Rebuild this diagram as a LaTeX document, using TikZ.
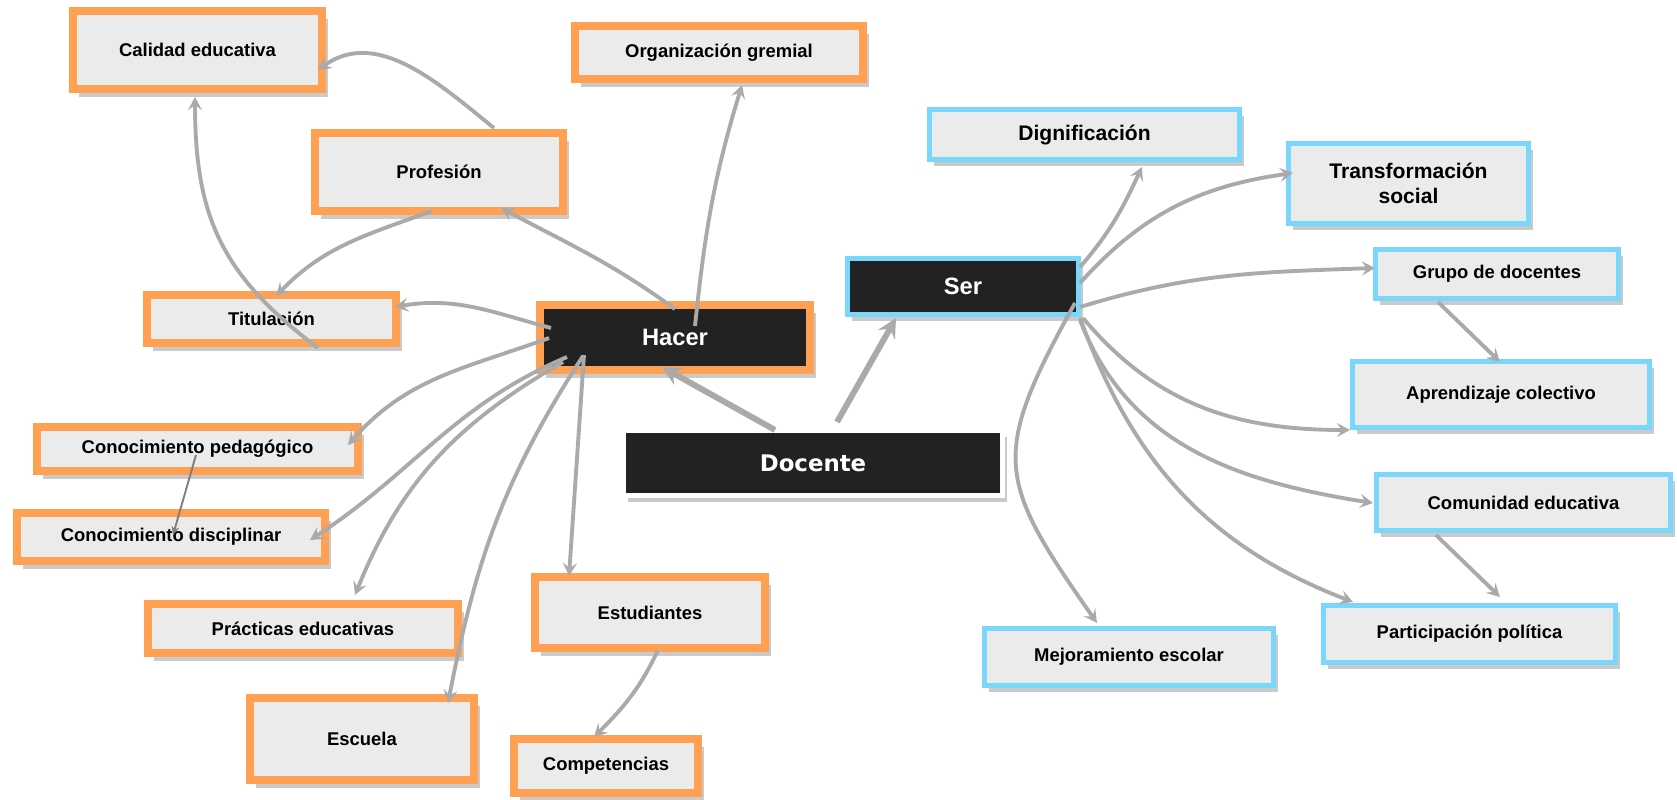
\documentclass[tikz,border=0pt]{standalone}
\usepackage{fontspec}
\setmainfont{Liberation Sans}
\newfontfamily\heavyfont{DejaVu Sans}
\usetikzlibrary{arrows.meta, calc, shadows}

\definecolor{orangeline}{RGB}{255,160,82}
\definecolor{blueline}{RGB}{122,215,252}
\definecolor{boxfill}{RGB}{235,235,235}
\definecolor{darkfill}{RGB}{34,34,34}
\definecolor{linkgray}{RGB}{170,170,170}

\tikzset{
    dim/.style 2 args={minimum width=#1*0.02cm, minimum height=#2*0.02cm},
    concept/.style={rectangle, fill=boxfill, inner sep=0pt, align=center,
        font=\bfseries\fontsize{10.5}{12.6}\selectfont},
    orangebox/.style={concept, draw=orangeline, line width=4.5pt,
        drop shadow={shadow xshift=3.4pt, shadow yshift=-4.5pt, opacity=0.42}},
    bluebox/.style={concept, draw=blueline, line width=3.1pt,
        drop shadow={shadow xshift=2.6pt, shadow yshift=-3.7pt, opacity=0.42}},
    core/.style={fill=darkfill, text=white, font=\bfseries\fontsize{13.5}{16}\selectfont},
    bigtext/.style={font=\bfseries\fontsize{12}{14.2}\selectfont},
    link/.style={draw=linkgray, line width=2.2pt, -{Stealth[length=7.5pt, width=8pt, inset=3pt]}},
    thicklink/.style={line width=3.4pt, -{Stealth[length=11pt, width=11pt, inset=4pt]}},
    thinlink/.style={draw=gray, line width=1.1pt, -{Stealth[length=5pt, width=4.5pt, inset=1.8pt]}}
}

\begin{document}
\begin{tikzpicture}[x=0.02cm, y=-0.02cm]
    \useasboundingbox (0,0) rectangle (1677,799);

    \node[orangebox, dim={249}{78}] (calidad) at (197.5,50) {Calidad educativa};
    \node[orangebox, dim={288}{53}] (organiz) at (719,52.5) {Organización gremial};
    \node[orangebox, dim={248}{78}] (profesion) at (439,172) {Profesión};
    \node[orangebox, dim={249}{48}] (titulacion) at (271.5,319) {Titulación};
    \node[orangebox, core, dim={270}{65}] (hacer) at (675,337.5) {Hacer};
    \node[orangebox, dim={321}{44}] (conped) at (197.5,449) {Conocimiento pedagógico};
    \node[orangebox, dim={308}{48}] (condis) at (171,537) {Conocimiento disciplinar};
    \node[orangebox, dim={310}{49}] (practicas) at (303,628.5) {Prácticas educativas};
    \node[orangebox, dim={224}{82}] (escuela) at (362,739) {Escuela};
    \node[orangebox, dim={230}{71}] (estudiantes) at (650,612.5) {Estudiantes};
    \node[orangebox, dim={184}{54}] (competencias) at (606,766) {Competencias};

    \node[concept, draw=white, line width=2.8pt, fill=darkfill, text=white,
        font=\heavyfont\bfseries\fontsize{13}{15.6}\selectfont,
        drop shadow={shadow xshift=2.4pt, shadow yshift=-3.5pt, opacity=0.42},
        dim={379}{65}] (docente) at (813,463) {Docente};

    \node[bluebox, core, dim={230.5}{55.5}] (ser) at (963,286.5) {Ser};
    \node[bluebox, bigtext, dim={309.5}{49.5}] (dign) at (1084.5,134.5) {Dignificación};
    \node[bluebox, bigtext, dim={239.5}{79.5}] (transf) at (1408.5,183.5) {Transformación\\social};
    \node[bluebox, dim={242.5}{48.5}] (grupo) at (1497,274) {Grupo de docentes};
    \node[bluebox, dim={296.5}{65.5}] (aprend) at (1501,394.5) {Aprendizaje colectivo};
    \node[bluebox, dim={293.5}{55.5}] (comun) at (1523.5,502.5) {Comunidad educativa};
    \node[bluebox, dim={291.5}{56.5}] (partic) at (1469.5,634) {Participación política};
    \node[bluebox, dim={288.5}{56.5}] (mejor) at (1129,657) {Mejoramiento escolar};

    \path[every edge/.style=link]
    ($(profesion)+(55,-44)$) edge [out=141, in=36] ($(calidad)+(120.5,20)$)
    ($(profesion)+(-7,39)$) edge [out=200, in=46] ($(titulacion)+(4.5,-23)$)
    ($(titulacion)+(46.5,29)$) edge [out=143, in=-90, looseness=1.1] ($(calidad)+(-2.5,47)$)
    ($(hacer)+(0,-28.5)$) edge [out=144, in=-28] ($(profesion)+(62,36)$)
    ($(hacer)+(20,-11.5)$) edge [out=84, in=253] ($(organiz)+(23,32.5)$)
    ($(hacer)+(-124,-9.5)$) edge [out=165, in=10] ($(titulacion)+(123.5,-12)$)
    ($(hacer)+(-126,0.5)$) edge [out=200, in=49] ($(conped)+(150.5,-4)$)
    ($(hacer)+(-108,19.5)$) edge [out=203, in=33] ($(condis)+(139,3)$)
    ($(hacer)+(-112,24.5)$) edge [out=210, in=68] ($(practicas)+(52,-33.5)$)
    ($(hacer)+(-92,18.5)$) edge [out=237, in=79] ($(escuela)+(86,-36)$)
    ($(hacer)+(-91,17.5)$) edge ($(estudiantes)+(-81,-36.5)$)
    ($(estudiantes)+(8,37.5)$) edge [out=245, in=45] ($(competencias)+(-12,-29)$)
    ($(conped)+(-1.5,6)$) edge [thinlink] ($(condis)+(2,-2)$)
    ($(docente)+(-38,-33)$) edge [thicklink] ($(hacer)+(-13,29.5)$)
    ($(docente)+(24,-41)$) edge [thicklink] ($(ser)+(-67,31.5)$)
    ($(ser)+(117,-19.5)$) edge [out=49, in=245] ($(dign)+(57.5,32.5)$)
    ($(ser)+(117,-3.5)$) edge [out=48, in=188] ($(transf)+(-115.5,-10.5)$)
    ($(ser)+(117,20.5)$) edge [out=17, in=182] ($(grupo)+(-122,-6)$)
    ($(ser)+(120,31.5)$) edge [out=-50, in=180] ($(aprend)+(-151,35.5)$)
    ($(ser)+(117,33.5)$) edge [out=-69, in=171] ($(comun)+(-150.5,0.5)$)
    ($(ser)+(117,31.5)$) edge [out=-70, in=159] ($(partic)+(-116.5,-32)$)
    ($(ser)+(112,16.5)$) edge [out=241, in=125, looseness=1.4] ($(mejor)+(-32,-34)$)
    ($(grupo)+(-59,28)$) edge ($(aprend)+(-1,-32.5)$)
    ($(comun)+(-87.5,32.5)$) edge ($(partic)+(30.5,-37)$)
    ;
\end{tikzpicture}
\end{document}
